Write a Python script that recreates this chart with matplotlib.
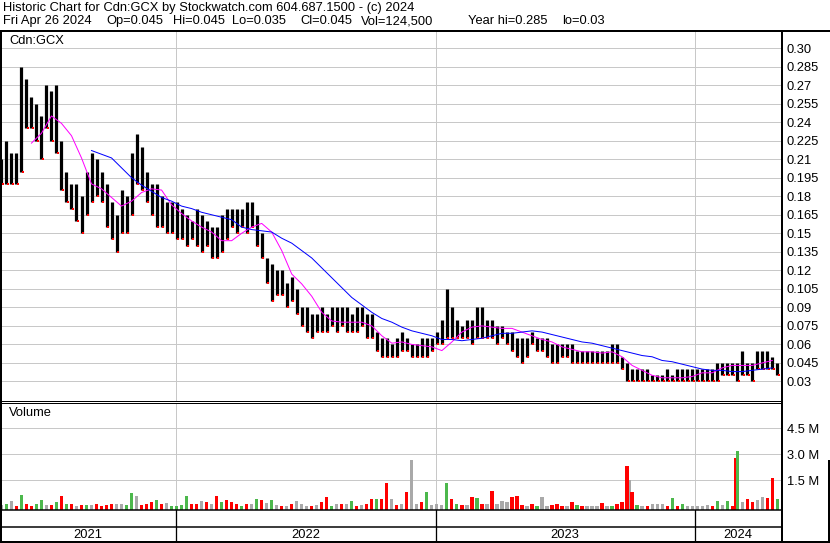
import matplotlib
matplotlib.use('Agg')
import matplotlib.pyplot as plt
import matplotlib.dates as mdates
from matplotlib.lines import Line2D
import numpy as np
import pandas as pd

plt.rcParams['font.family'] = ['Liberation Sans', 'DejaVu Sans']

W, H = 830, 543
PX = 72 / 100          # points per pixel at dpi=100
FS = 9.3

title_1 = 'Historic Chart for Cdn:GCX by Stockwatch.com 604.687.1500 - (c) 2024'
title_2 = ['Fri Apr 26 2024', 'Op=0.045', 'Hi=0.045', 'Lo=0.035', 'Cl=0.045',
           'Vol=124,500', 'Year hi=0.285', 'lo=0.03']
title_2_x = [3, 106, 173, 232, 300, 361, 468, 562]
symbol = 'Cdn:GCX'

# weekly high / low (Apr 2021 - Apr 2024)
week_high = [0.21, 0.225, 0.215, 0.215, 0.285, 0.275, 0.26, 0.255, 0.245, 0.27,
             0.265, 0.27, 0.225, 0.20, 0.19, 0.19, 0.18, 0.20, 0.215, 0.21,
             0.20, 0.19, 0.175, 0.165, 0.185, 0.18, 0.215, 0.23, 0.22, 0.20,
             0.19, 0.19, 0.18, 0.175, 0.175, 0.175, 0.17, 0.165, 0.16, 0.17,
             0.165, 0.16, 0.155, 0.155, 0.165, 0.17, 0.17, 0.17, 0.17, 0.175,
             0.175, 0.165, 0.15, 0.13, 0.125, 0.12, 0.12, 0.11, 0.115, 0.105,
             0.09, 0.09, 0.085, 0.085, 0.09, 0.085, 0.09, 0.09, 0.09, 0.09,
             0.085, 0.09, 0.09, 0.085, 0.085, 0.07, 0.065, 0.065, 0.06, 0.065,
             0.07, 0.065, 0.06, 0.06, 0.065, 0.065, 0.065, 0.07, 0.08, 0.105,
             0.09, 0.08, 0.075, 0.08, 0.08, 0.09, 0.09, 0.08, 0.08, 0.075,
             0.075, 0.07, 0.07, 0.065, 0.065, 0.065, 0.07, 0.065, 0.065, 0.065,
             0.06, 0.06, 0.06, 0.06, 0.06, 0.055, 0.055, 0.055, 0.055, 0.055,
             0.055, 0.055, 0.06, 0.06, 0.05, 0.045, 0.04, 0.04, 0.04, 0.04,
             0.035, 0.035, 0.035, 0.04, 0.035, 0.04, 0.04, 0.04, 0.04, 0.04,
             0.04, 0.04, 0.04, 0.045, 0.045, 0.045, 0.045, 0.045, 0.055, 0.045,
             0.045, 0.055, 0.055, 0.055, 0.05, 0.045]
week_low = [0.19, 0.19, 0.19, 0.19, 0.20, 0.235, 0.235, 0.225, 0.21, 0.235,
            0.225, 0.215, 0.185, 0.175, 0.17, 0.16, 0.15, 0.165, 0.175, 0.18,
            0.175, 0.155, 0.145, 0.135, 0.15, 0.15, 0.165, 0.19, 0.185, 0.175,
            0.165, 0.155, 0.155, 0.15, 0.15, 0.145, 0.145, 0.14, 0.145, 0.14,
            0.135, 0.14, 0.13, 0.13, 0.135, 0.145, 0.155, 0.15, 0.155, 0.15,
            0.155, 0.14, 0.13, 0.11, 0.095, 0.10, 0.10, 0.09, 0.095, 0.085,
            0.075, 0.07, 0.065, 0.07, 0.07, 0.07, 0.075, 0.07, 0.075, 0.07,
            0.07, 0.07, 0.075, 0.065, 0.065, 0.055, 0.05, 0.05, 0.05, 0.05,
            0.055, 0.055, 0.05, 0.05, 0.05, 0.05, 0.055, 0.06, 0.06, 0.065,
            0.065, 0.065, 0.065, 0.065, 0.06, 0.065, 0.065, 0.065, 0.065, 0.06,
            0.065, 0.06, 0.055, 0.05, 0.045, 0.05, 0.06, 0.055, 0.055, 0.05,
            0.045, 0.045, 0.05, 0.05, 0.045, 0.045, 0.045, 0.045, 0.045, 0.045,
            0.045, 0.045, 0.045, 0.045, 0.04, 0.03, 0.03, 0.03, 0.03, 0.03,
            0.03, 0.03, 0.03, 0.03, 0.03, 0.03, 0.03, 0.03, 0.03, 0.03,
            0.03, 0.03, 0.03, 0.03, 0.035, 0.035, 0.035, 0.03, 0.035, 0.035,
            0.03, 0.04, 0.04, 0.04, 0.04, 0.035]

# moving averages, every second week
ma_fast = [0.223, 0.231, 0.245, 0.239, 0.229, 0.211, 0.190, 0.186, 0.179, 0.172,
           0.176, 0.183, 0.186, 0.185, 0.173, 0.166, 0.160, 0.155, 0.151, 0.144,
           0.144, 0.150, 0.155, 0.158, 0.151, 0.136, 0.117, 0.109, 0.099, 0.086,
           0.079, 0.078, 0.078, 0.078, 0.075, 0.067, 0.061, 0.062, 0.060, 0.059,
           0.058, 0.055, 0.062, 0.070, 0.074, 0.075, 0.074, 0.073, 0.073, 0.070,
           0.067, 0.064, 0.062, 0.058, 0.056, 0.054, 0.054, 0.053, 0.054, 0.050,
           0.043, 0.039, 0.035, 0.033, 0.033, 0.033, 0.034, 0.037, 0.037, 0.041,
           0.043, 0.043, 0.043, 0.045, 0.047]
ma_slow = [0.217, 0.214, 0.211, 0.203, 0.195, 0.189, 0.184, 0.179, 0.176, 0.172,
           0.170, 0.167, 0.165, 0.163, 0.161, 0.155, 0.153, 0.152, 0.151, 0.146,
           0.142, 0.136, 0.130, 0.122, 0.114, 0.106, 0.098, 0.092, 0.086, 0.081,
           0.078, 0.074, 0.071, 0.069, 0.067, 0.064, 0.064, 0.063, 0.064, 0.065,
           0.067, 0.069, 0.069, 0.070, 0.071, 0.070, 0.068, 0.066, 0.064, 0.062,
           0.061, 0.059, 0.057, 0.055, 0.053, 0.051, 0.050, 0.047, 0.046, 0.044,
           0.042, 0.040, 0.039, 0.039, 0.038, 0.038, 0.039, 0.040, 0.041]

# weekly volume (millions) and colour code r=down g=up k=unchanged
week_vol = [0.10, 0.17, 0.33, 0.05, 0.65, 0.13, 0.05, 0.13, 0.37, 0.08,
            0.08, 0.27, 0.60, 0.17, 0.13, 0.05, 0.08, 0.08, 0.08, 0.13,
            0.05, 0.08, 0.13, 0.17, 0.13, 0.08, 0.77, 0.60, 0.08, 0.13,
            0.27, 0.37, 0.13, 0.21, 0.05, 0.05, 0.08, 0.60, 0.13, 0.13,
            0.31, 0.27, 0.13, 0.60, 0.27, 0.37, 0.27, 0.13, 0.05, 0.13,
            0.17, 0.42, 0.40, 0.21, 0.37, 0.08, 0.05, 0.05, 0.13, 0.33,
            0.17, 0.05, 0.05, 0.08, 0.27, 0.54, 0.05, 0.17, 0.17, 0.13,
            0.33, 0.05, 0.08, 0.17, 0.42, 0.42, 0.42, 1.35, 0.46, 0.08,
            0.13, 0.83, 2.67, 0.17, 0.27, 0.83, 0.08, 0.17, 0.08, 1.33,
            0.42, 0.17, 0.08, 0.08, 0.54, 0.50, 0.13, 0.17, 0.88, 0.13,
            0.33, 0.27, 0.54, 0.60, 0.08, 0.05, 0.13, 0.05, 0.54, 0.05,
            0.08, 0.13, 0.05, 0.05, 0.27, 0.08, 0.05, 0.05, 0.05, 0.05,
            0.21, 0.03, 0.05, 0.13, 0.27, 2.33, 0.83, 0.08, 0.05, 0.05,
            0.17, 0.13, 0.13, 0.05, 0.50, 0.05, 0.13, 0.03, 0.03, 0.03,
            0.05, 0.08, 0.05, 0.31, 0.08, 0.33, 0.05, 3.21, 0.27, 0.42,
            0.27, 0.37, 0.56, 0.50, 1.63, 0.44]
week_vcol = ('kgkrgrrggk' 'rgrgrkrgkr' 'rrrkkggkrr' 'rgrkggggrr' 'krkrgrrrgr'
             'kgrkgkrkrk' 'kkrkrrgkrk' 'grkrrgrrkr' 'krkkrgkkkg' 'rgrkrgrkrk'
             'kkrrrkrgkk' 'rrrkrgrkkk' 'rkgrrrrgkr' 'kkkrgrgkkk' 'kkrgkgrgkr'
             'rkkrrg')
# single-day spikes sharing a week with a bigger one
spike_dates = ['2023-10-02', '2024-02-26']
spike_vol = [1.5, 2.79]
spike_col = ['k', 'r']

price_ticks = [0.03, 0.045, 0.06, 0.075, 0.09, 0.105, 0.12, 0.135, 0.15, 0.165,
               0.18, 0.195, 0.21, 0.225, 0.24, 0.255, 0.27, 0.285, 0.30]
price_labels = ['0.03', '0.045', '0.06', '0.075', '0.09', '0.105', '0.12', '0.135',
                '0.15', '0.165', '0.18', '0.195', '0.21', '0.225', '0.24', '0.255',
                '0.27', '0.285', '0.30']
vol_ticks = [1.5, 3.0, 4.5]
vol_labels = ['1.5 M', '3.0 M', '4.5 M']
years = [2021, 2022, 2023, 2024]

vcolors = {'r': '#ff0000', 'g': '#4cb84c', 'k': '#a9a9a9'}
grid_c = '#c8c8c8'

weeks = pd.date_range('2021-04-30', '2024-04-26', periods=len(week_high))
x0, x1 = pd.Timestamp('2021-04-28'), pd.Timestamp('2024-05-02')

fig = plt.figure(figsize=(W / 100, H / 100), dpi=100)


def box(left, top, right, bottom):
    return [left / W, 1 - bottom / H, (right - left) / W, (bottom - top) / H]


ax_p = fig.add_axes(box(0, 31, 781.5, 400.5))
ax_v = fig.add_axes(box(0, 403, 781.5, 510))
ax_s = fig.add_axes(box(0, 510, 781.5, 526.5))
ax_y = fig.add_axes(box(0, 526.5, 781.5, 541.5))

for ax in (ax_p, ax_v, ax_s, ax_y):
    ax.set_xlim(x0, x1)
    for s in ax.spines.values():
        s.set_visible(False)
    ax.xaxis.set_major_locator(mdates.YearLocator())
    ax.tick_params(axis='x', length=0, labelbottom=False)
    ax.set_axisbelow(True)

# price panel
ax_p.set_ylim(0.01459, 0.3138)
ax_p.vlines(weeks, week_low, week_high, color='black', lw=3.2 * PX, zorder=3)
ax_p.plot(weeks + pd.Timedelta(days=2), week_low, ls='none', marker='s',
          ms=1.7, mew=0, color='#ff0000', zorder=4)
ax_p.plot(weeks[6::2], ma_fast, color='#ff00ff', lw=1 * PX, zorder=5)
ax_p.plot(weeks[18::2], ma_slow, color='#0000ff', lw=1 * PX, zorder=5)
ax_p.yaxis.tick_right()
ax_p.set_yticks(price_ticks)
ax_p.set_yticklabels(price_labels)
ax_p.tick_params(axis='y', length=0, pad=5 * PX, labelsize=FS)
ax_p.grid(True, color=grid_c, lw=1 * PX)
ax_p.text(9 / 781.5, 1 - 10 / 369.5, symbol, transform=ax_p.transAxes,
          fontsize=FS, va='center', ha='left')

# volume panel
vbot = -0.2
ax_v.set_ylim(vbot, 5.96)
ax_v.bar(pd.to_datetime(spike_dates), np.array(spike_vol) - vbot, bottom=vbot,
         width=3, color=[vcolors[c] for c in spike_col], zorder=3)
ax_v.bar(weeks, np.array(week_vol) - vbot, bottom=vbot, width=4.5,
         color=[vcolors[c] for c in week_vcol], zorder=3)
ax_v.yaxis.tick_right()
ax_v.set_yticks(vol_ticks)
ax_v.set_yticklabels(vol_labels)
ax_v.tick_params(axis='y', length=0, pad=5 * PX, labelsize=FS)
ax_v.grid(True, color=grid_c, lw=1 * PX)
ax_v.text(9 / 781.5, 1 - 10 / 107, 'Volume', transform=ax_v.transAxes,
          fontsize=FS, va='center', ha='left')

# date strips
for ax in (ax_s, ax_y):
    ax.set_yticks([])
    ax.grid(True, axis='x', color='black', lw=1.3 * PX)
for yr in years:
    a = max(pd.Timestamp(f'{yr}-01-01'), x0)
    b = min(pd.Timestamp(f'{yr + 1}-01-01'), x1)
    ax_y.text(a + (b - a) / 2, 0.45, str(yr), fontsize=FS, ha='center', va='center',
              transform=ax_y.get_xaxis_transform())


# frame lines in pixel coordinates
def line(xa, ya, xb, yb, w):
    fig.add_artist(Line2D([xa / W, xb / W], [1 - ya / H, 1 - yb / H],
                          transform=fig.transFigure, color='black', lw=w * PX,
                          solid_capstyle='butt', zorder=10))


line(0, 30.5, 830, 30.5, 2)
line(1, 30, 1, 543, 2)
line(782, 30, 782, 543, 2)
line(829, 460, 829, 543, 2)
line(0, 400.5, 782, 400.5, 1)
line(0, 402.5, 782, 402.5, 1)
line(0, 510, 782, 510, 1.5)
line(0, 526.5, 782, 526.5, 1.5)
line(0, 541.5, 830, 541.5, 2)

fig.text(3 / W, 1 - 8 / H, title_1, fontsize=FS, va='center', ha='left')
for label, px in zip(title_2, title_2_x):
    fig.text(px / W, 1 - 21 / H, label, fontsize=FS, va='center', ha='left')

fig.savefig('out.png', dpi=100)
